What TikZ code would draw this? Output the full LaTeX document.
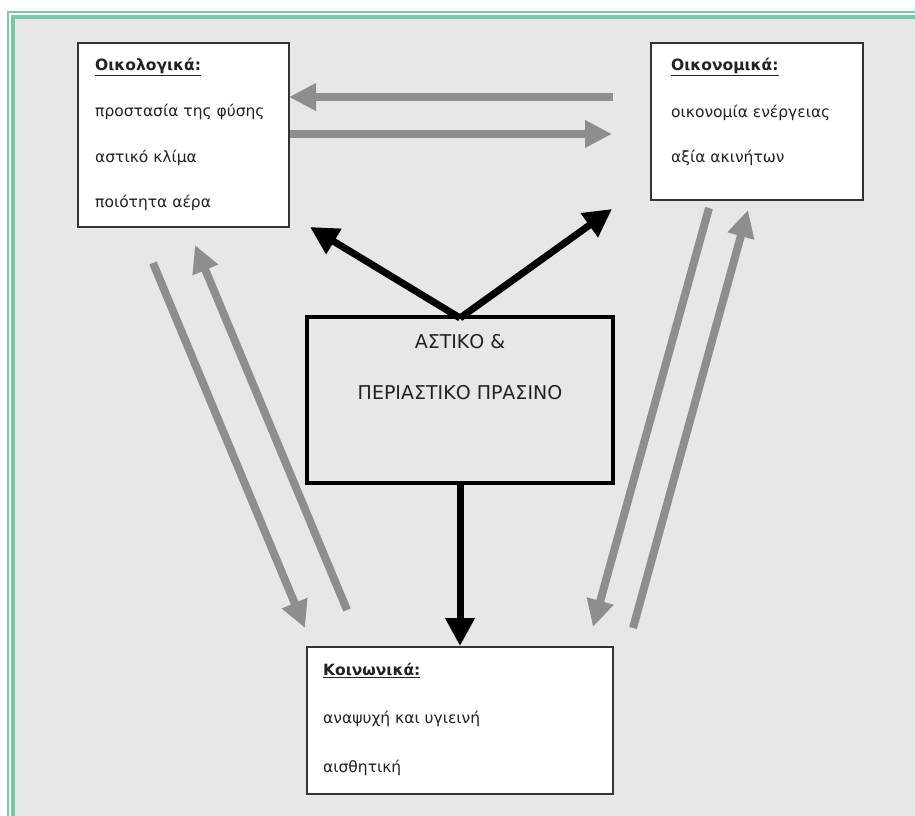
\documentclass[tikz,border=0pt]{standalone}
\usepackage{fontspec}
\setmainfont{DejaVu Sans}
\usetikzlibrary{arrows.meta}
\definecolor{frame}{HTML}{7CC8A6}
\definecolor{paper}{HTML}{E7E7E7}
\definecolor{arrgray}{HTML}{8E8E8E}
\definecolor{txt}{HTML}{222222}
\tikzset{
  box/.style={draw=black!80, line width=2pt, fill=white, inner sep=0pt},
  centerbox/.style={draw=black, line width=3.5pt, inner sep=0pt},
  lbl/.style={anchor=west, inner sep=0pt, text=txt, font=\fontsize{15.5}{17}\selectfont},
  clbl/.style={inner sep=0pt, text=txt, font=\fontsize{19}{21}\selectfont},
  garrow/.style={draw=arrgray, line width=8pt, -{Triangle[length=27pt,width=26pt]}},
  barrow/.style={draw=black, line width=7pt, -{Triangle[length=28pt,width=28pt]}},
}
\begin{document}
\begin{tikzpicture}[x=1pt,y=-1pt]
\useasboundingbox (0,0) rectangle (915,816);
\fill[white] (0,0) rectangle (915,816);
\fill[paper] (15,18) rectangle (915,816);
\draw[frame, line width=2pt] (8,816) -- (8,12.5) -- (915,12.5);
\draw[frame, line width=3.5pt] (13,816) -- (13,16.8) -- (915,16.8);

% boxes
\node[box, minimum width=211pt, minimum height=184pt] (eco) at (183.5,135) {};
\node[box, minimum width=212pt, minimum height=157pt] (econ) at (757,121.5) {};
\node[centerbox, minimum width=306pt, minimum height=166pt] (urban) at (460,400) {};
\node[box, minimum width=306pt, minimum height=147pt] (soc) at (460,720.5) {};

% texts
\node[lbl] (ecot) at (95,67) {\textbf{\underline{Οικολογικά:}}};
\node[lbl] (eco1) at (95,112) {προστασία της φύσης};
\node[lbl] (eco2) at (95,158) {αστικό κλίμα};
\node[lbl] (eco3) at (95,203) {ποιότητα αέρα};

\node[lbl] (econt) at (671,67) {\textbf{\underline{Οικονομικά:}}};
\node[lbl] (econ1) at (671,113) {οικονομία ενέργειας};
\node[lbl] (econ2) at (671,158) {αξία ακινήτων};

\node[clbl] (urb1) at (460,342) {ΑΣΤΙΚΟ \&};
\node[clbl] (urb2) at (460,393) {ΠΕΡΙΑΣΤΙΚΟ ΠΡΑΣΙΝΟ};

\node[lbl] (soct) at (323,670) {\textbf{\underline{Κοινωνικά:}}};
\node[lbl] (soc1) at (323,719) {αναψυχή και υγιεινή};
\node[lbl] (soc2) at (323,768) {αισθητική};

% coordinates for connectors
\coordinate (h1s) at (613,97);  \coordinate (h1e) at (289,97);
\coordinate (h2s) at (290,134); \coordinate (h2e) at (612,134);
\coordinate (l1s) at (153,263); \coordinate (l1e) at (305,628);
\coordinate (l2s) at (347,610); \coordinate (l2e) at (195,245);
\coordinate (r1s) at (709,208); \coordinate (r1e) at (593,627);
\coordinate (r2s) at (633,628); \coordinate (r2e) at (748,210);
\coordinate (apex) at (460,318);
\coordinate (bl) at (310,227);
\coordinate (br) at (612,209);

\draw[garrow] (h1s) -- (h1e);
\draw[garrow] (h2s) -- (h2e);
\draw[garrow] (l1s) -- (l1e);
\draw[garrow] (l2s) -- (l2e);
\draw[garrow] (r1s) -- (r1e);
\draw[garrow] (r2s) -- (r2e);

\draw[barrow] (apex) -- (bl);
\draw[barrow] (apex) -- (br);
\draw[barrow] (urban.south) -- (soc.north);
\end{tikzpicture}
\end{document}
